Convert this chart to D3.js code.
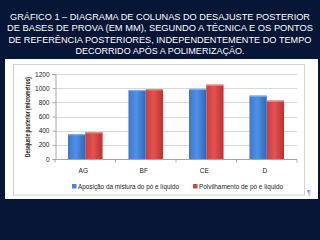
<!DOCTYPE html>
<html><head><meta charset="utf-8">
<script src="https://cdn.jsdelivr.net/npm/d3@7/dist/d3.min.js"></script>
<style>html,body{margin:0;padding:0;background:#071537;}svg{display:block;}</style>
</head><body>
<svg id="c" width="320" height="240"></svg>
<script>
const titleLines = [
  "GRÁFICO 1 – DIAGRAMA DE COLUNAS DO DESAJUSTE POSTERIOR",
  "DE BASES DE PROVA (EM MM), SEGUNDO A TÉCNICA E OS PONTOS",
  "DE REFERÊNCIA POSTERIORES, INDEPENDENTEMENTE DO TEMPO",
  "DECORRIDO APÓS A POLIMERIZAÇÃO."
];
const categories = ["AG", "BF", "CE", "D"];
const seriesNames = ["Aposição da mistura do pó e líquido", "Polvilhamento de pó e líquido"];
const seriesA = [352, 975, 990, 895];
const seriesB = [378, 985, 1050, 825];
const yTicks = [0, 200, 400, 600, 800, 1000, 1200];
const yTitle = "Desajuste posterior (micrometros)";

const svg = d3.select("#c");
svg.append("rect").attr("width",320).attr("height",240).attr("fill","#071537");

// title
const tw = [300, 306, 303, 169];
const tb = [20, 31.3, 42.6, 54];
svg.selectAll("text.title").data(titleLines).enter().append("text")
  .attr("class","title").attr("x",160).attr("y",(d,i)=>tb[i])
  .attr("text-anchor","middle").attr("fill","#ffffff")
  .attr("font-family","Liberation Sans, Arial, sans-serif").attr("font-size",9.4)
  .attr("textLength",(d,i)=>tw[i]).attr("lengthAdjust","spacingAndGlyphs")
  .text(d=>d);

// panel
svg.append("rect").attr("x",5).attr("y",59).attr("width",313).attr("height",140).attr("fill","#ffffff");
svg.append("rect").attr("x",13.5).attr("y",64.5).attr("width",291).attr("height",130.5)
  .attr("fill","none").attr("stroke","#d4d4d4").attr("stroke-width",1);

const defs = svg.append("defs");
function grad(id, c0, c1, c2){
  const g = defs.append("linearGradient").attr("id",id).attr("x1","0").attr("x2","1").attr("y1","0").attr("y2","0");
  g.append("stop").attr("offset","0").attr("stop-color",c0);
  g.append("stop").attr("offset","0.45").attr("stop-color",c1);
  g.append("stop").attr("offset","1").attr("stop-color",c2);
}
grad("gb","#3a78cf","#4f91e6","#2f67b8");
grad("gr","#cf3b38","#e25350","#b83330");

const x0 = d3.scaleBand().domain(categories).range([55,297]);
const y = d3.scaleLinear().domain([0,1200]).range([159,74]);
const barW = x0.bandwidth()/3.5;

// gridlines
svg.append("g").selectAll("line").data(yTicks.filter(d=>d>0)).enter().append("line")
  .attr("x1",55).attr("x2",297).attr("y1",d=>Math.round(y(d))+0.5).attr("y2",d=>Math.round(y(d))+0.5)
  .attr("stroke","#d9d9d9").attr("stroke-width",1);

// bars
const data = categories.map((c,i)=>({c, a:seriesA[i], b:seriesB[i]}));
const gBars = svg.append("g");
data.forEach(d=>{
  const cx = x0(d.c) + x0.bandwidth()/2;
  gBars.append("rect").attr("x",cx-barW).attr("y",y(d.a)).attr("width",barW).attr("height",y(0)-y(d.a)).attr("fill","url(#gb)");
  gBars.append("rect").attr("x",cx).attr("y",y(d.b)).attr("width",barW).attr("height",y(0)-y(d.b)).attr("fill","url(#gr)");
  gBars.append("rect").attr("x",cx-barW).attr("y",y(d.a)).attr("width",barW).attr("height",1.2).attr("fill","#7fb0ee");
  gBars.append("rect").attr("x",cx).attr("y",y(d.b)).attr("width",barW).attr("height",1.2).attr("fill","#ee8a88");
});

// y axis
const yAxis = d3.axisLeft(y).tickValues(yTicks).tickSize(3).tickPadding(3).tickFormat(d3.format("d"));
const gy = svg.append("g").attr("transform","translate(55.5,0)").call(yAxis);
gy.select(".domain").attr("stroke","#a6a6a6");
gy.selectAll(".tick line").attr("stroke","#a6a6a6");
gy.selectAll("text").attr("font-family","Liberation Sans, Arial, sans-serif").attr("font-size",6.5).attr("fill","#222");

// x axis
const gx = svg.append("g").attr("transform","translate(0,159.5)");
gx.append("line").attr("x1",55).attr("x2",297).attr("stroke","#a6a6a6");
const bounds = categories.map(c=>x0(c)).concat([297]);
gx.selectAll("line.t").data(bounds).enter().append("line").attr("class","t")
  .attr("x1",d=>d).attr("x2",d=>d).attr("y1",0).attr("y2",3).attr("stroke","#a6a6a6");
gx.selectAll("text").data(categories).enter().append("text")
  .attr("x",d=>x0(d)+x0.bandwidth()/2 - 2).attr("y",13)
  .attr("text-anchor","middle").attr("font-family","Liberation Sans, Arial, sans-serif").attr("font-size",6.5).attr("fill","#222")
  .text(d=>d);

// y title
svg.append("text").attr("transform","translate(30,117) rotate(-90)")
  .attr("text-anchor","middle").attr("font-family","Liberation Sans, Arial, sans-serif")
  .attr("font-weight","bold").attr("font-size",6.8).attr("fill","#222")
  .attr("textLength",80).attr("lengthAdjust","spacingAndGlyphs")
  .text(yTitle);

// legend
const legX = [72, 193];
const legTW = [101, 84];
const legC = ["#4a86d4","#cf4644"];
seriesNames.forEach((s,i)=>{
  svg.append("rect").attr("x",legX[i]).attr("y",184).attr("width",4.5).attr("height",4.5).attr("fill",legC[i]);
  svg.append("text").attr("x",legX[i]+6).attr("y",188.5)
    .attr("font-family","Liberation Sans, Arial, sans-serif").attr("font-size",6.5).attr("fill","#222")
    .attr("textLength",legTW[i]).attr("lengthAdjust","spacingAndGlyphs").text(s);
});

// pilcrow
svg.append("text").attr("x",307).attr("y",195).attr("font-family","Liberation Sans, Arial, sans-serif")
  .attr("font-size",7).attr("fill","#4a86d4").text("¶");
</script>
</body></html>
